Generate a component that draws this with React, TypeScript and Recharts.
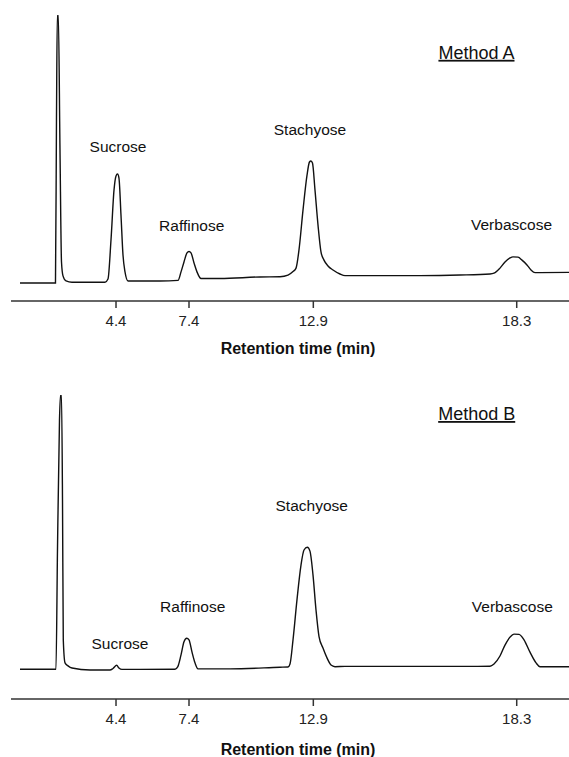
import React from 'react';
import { LineChart, Line, XAxis, YAxis, ReferenceDot } from 'recharts';

// x is the position along the drawn time axis (0–100); the printed tick labels are retention times
const tickPositions = [18.82, 31.9, 54.18, 90.63];
const tickLabels = ['4.4', '7.4', '12.9', '18.3'];

const posA = [
  1.61, 7.97, 8.15, 8.3, 8.48, 8.78, 9.05, 9.32, 9.86, 10.93, 14.16, 16.85, 17.38, 17.92, 18.46, 18.82,
  19.09, 19.35, 19.71, 20.07, 20.43, 20.97, 23.12, 26.7, 29.93, 30.47, 31.0, 31.54, 31.9, 32.26, 32.8,
  33.33, 34.05, 37.46, 44.62, 48.21, 49.64, 50.54, 51.08, 51.61, 52.33, 53.05, 53.49, 53.76, 54.03,
  54.48, 55.02, 55.56, 56.09, 56.81, 57.71, 58.96, 59.86, 62.54, 73.3, 80.47, 85.84, 86.56, 87.63,
  88.53, 89.43, 89.96, 90.86, 91.58, 92.47, 93.19, 93.91, 94.8, 100,
];
const signalA = [
  -0.26, -0.26, 60.7, 100, 100, 49.5, 7.6, 2.4, 0.5, 0, 0, 0, 1.2, 15.8, 34.5, 39.8,
  40.5, 39.0, 25.2, 10.2, 3.9, 0.5, 0.5, 0.5, 0.7, 3.9, 7.6, 11.0, 11.5, 11.0, 7.2,
  3.9, 1.4, 1.4, 2.0, 2.1, 2.7, 4.0, 5.3, 12.1, 27.0, 40.1, 45.0, 45.4, 44.6,
  34.5, 21.4, 11.3, 8.3, 6.1, 4.6, 3.1, 2.5, 2.5, 2.5, 2.7, 3.1, 3.4, 5.3,
  7.6, 9.1, 9.5, 9.4, 8.3, 6.5, 4.6, 3.6, 3.6, 3.7,
];

const posB = [
  1.61, 8.06, 8.33, 8.69, 8.87, 9.05, 9.23, 9.37, 9.68, 10.22, 10.93, 14.16, 17.74, 18.28, 18.94, 19.35,
  19.89, 23.12, 29.39, 29.87, 30.47, 31.0, 31.49, 31.9, 32.44, 32.97, 33.51, 39.25, 48.21, 49.64, 50.0,
  50.54, 51.25, 51.97, 52.51, 53.1, 53.58, 54.12, 54.66, 55.2, 55.91, 56.63, 57.35, 58.06, 59.86, 73.3,
  82.26, 85.84, 86.56, 87.63, 88.53, 89.43, 90.14, 91.04, 91.94, 93.01, 94.09, 94.8, 100,
];
const signalB = [
  -0.15, -0.15, 43.4, 90.9, 100, 100, 61.7, 10.6, 2.2, 1.1, 0.3, -0.4, -0.4, 0.15, 1.3, 0.3,
  -0.2, -0.2, -0.15, 0.7, 5.1, 9.9, 11.2, 10.6, 6.1, 2.2, 0, 0, 0.6, 0.7, 1.8,
  10.6, 25.2, 37.9, 43.4, 44.4, 43.0, 34.3, 21.5, 11.8, 7.6, 4.0, 1.4, 0.8, 0.9, 0.9,
  0.9, 0.95, 1.8, 4.7, 8.7, 11.6, 12.7, 12.6, 10.6, 6.1, 2.2, 0.8, 0.8,
];

const peakNames = ['Sucrose', 'Raffinose', 'Stachyose', 'Verbascose'];
const labelPosA = [19.18, 32.38, 53.58, 89.7];
const labelSignalA = [50.8, 21.4, 57.2, 21.6];
const labelPosB = [19.53, 32.56, 53.89, 89.84];
const labelSignalB = [9.2, 22.6, 59.8, 22.7];

const toRows = (xs: number[], ys: number[]) => xs.map((x, i) => ({ x, y: ys[i] }));

const ink = '#111';

interface PanelProps {
  title: string;
  titleAt: [number, number];
  data: { x: number; y: number }[];
  labelX: number[];
  labelY: number[];
  height: number;
  top: number;
  axisHeight: number;
  yMin: number;
  titleOffset: number;
}

function Chromatogram({ title, titleAt, data, labelX, labelY, height, top, axisHeight, yMin, titleOffset }: PanelProps) {
  return (
    <LineChart width={569} height={height} data={data} margin={{ top, right: 0, left: 11, bottom: 0 }}>
      <XAxis
        dataKey="x"
        type="number"
        domain={[0, 100]}
        allowDataOverflow
        ticks={tickPositions}
        tickFormatter={(v) => tickLabels[tickPositions.indexOf(v)] ?? ''}
        height={axisHeight}
        tickSize={7}
        tickMargin={7}
        axisLine={{ stroke: '#333', strokeWidth: 1.5 }}
        tickLine={{ stroke: '#333', strokeWidth: 1.5 }}
        tick={{ fill: '#222', fontSize: 15 }}
        label={{
          value: 'Retention time (min)',
          position: 'insideBottom',
          offset: titleOffset,
          dx: 8,
          style: { fontWeight: 'bold', fontSize: 16, fill: ink },
        }}
      />
      <YAxis hide type="number" domain={[yMin, 100]} allowDataOverflow />
      <Line
        type="monotone"
        dataKey="y"
        stroke={ink}
        strokeWidth={1.4}
        dot={false}
        isAnimationActive={false}
      />
      {peakNames.map((name, i) => (
        <ReferenceDot
          key={name}
          x={labelX[i]}
          y={labelY[i]}
          r={0}
          fill="none"
          stroke="none"
          label={{ value: name, position: 'center', fill: ink, fontSize: 15.5 }}
        />
      ))}
      <ReferenceDot
        x={titleAt[0]}
        y={titleAt[1]}
        r={0}
        fill="none"
        stroke="none"
        label={{
          value: title,
          position: 'center',
          fill: ink,
          fontSize: 18,
          style: { textDecoration: 'underline' },
        }}
      />
    </LineChart>
  );
}

export default function App() {
  return (
    <div
      style={{
        position: 'absolute',
        left: 0,
        top: 0,
        width: 569,
        height: 757,
        background: '#fff',
        fontFamily: '"Liberation Sans", Arial, sans-serif',
      }}
    >
      <div style={{ position: 'absolute', left: 0, top: 0 }}>
        <Chromatogram
          title="Method A"
          titleAt={[83.42, 86.0]}
          data={toRows(posA, signalA)}
          labelX={labelPosA}
          labelY={labelSignalA}
          height={370}
          top={15}
          axisHeight={69}
          yMin={-7}
          titleOffset={16}
        />
      </div>
      <div style={{ position: 'absolute', left: 0, top: 378 }}>
        <Chromatogram
          title="Method B"
          titleAt={[83.46, 93.2]}
          data={toRows(posB, signalB)}
          labelX={labelPosB}
          labelY={labelSignalB}
          height={379}
          top={17}
          axisHeight={58}
          yMin={-11}
          titleOffset={2}
        />
      </div>
    </div>
  );
}
